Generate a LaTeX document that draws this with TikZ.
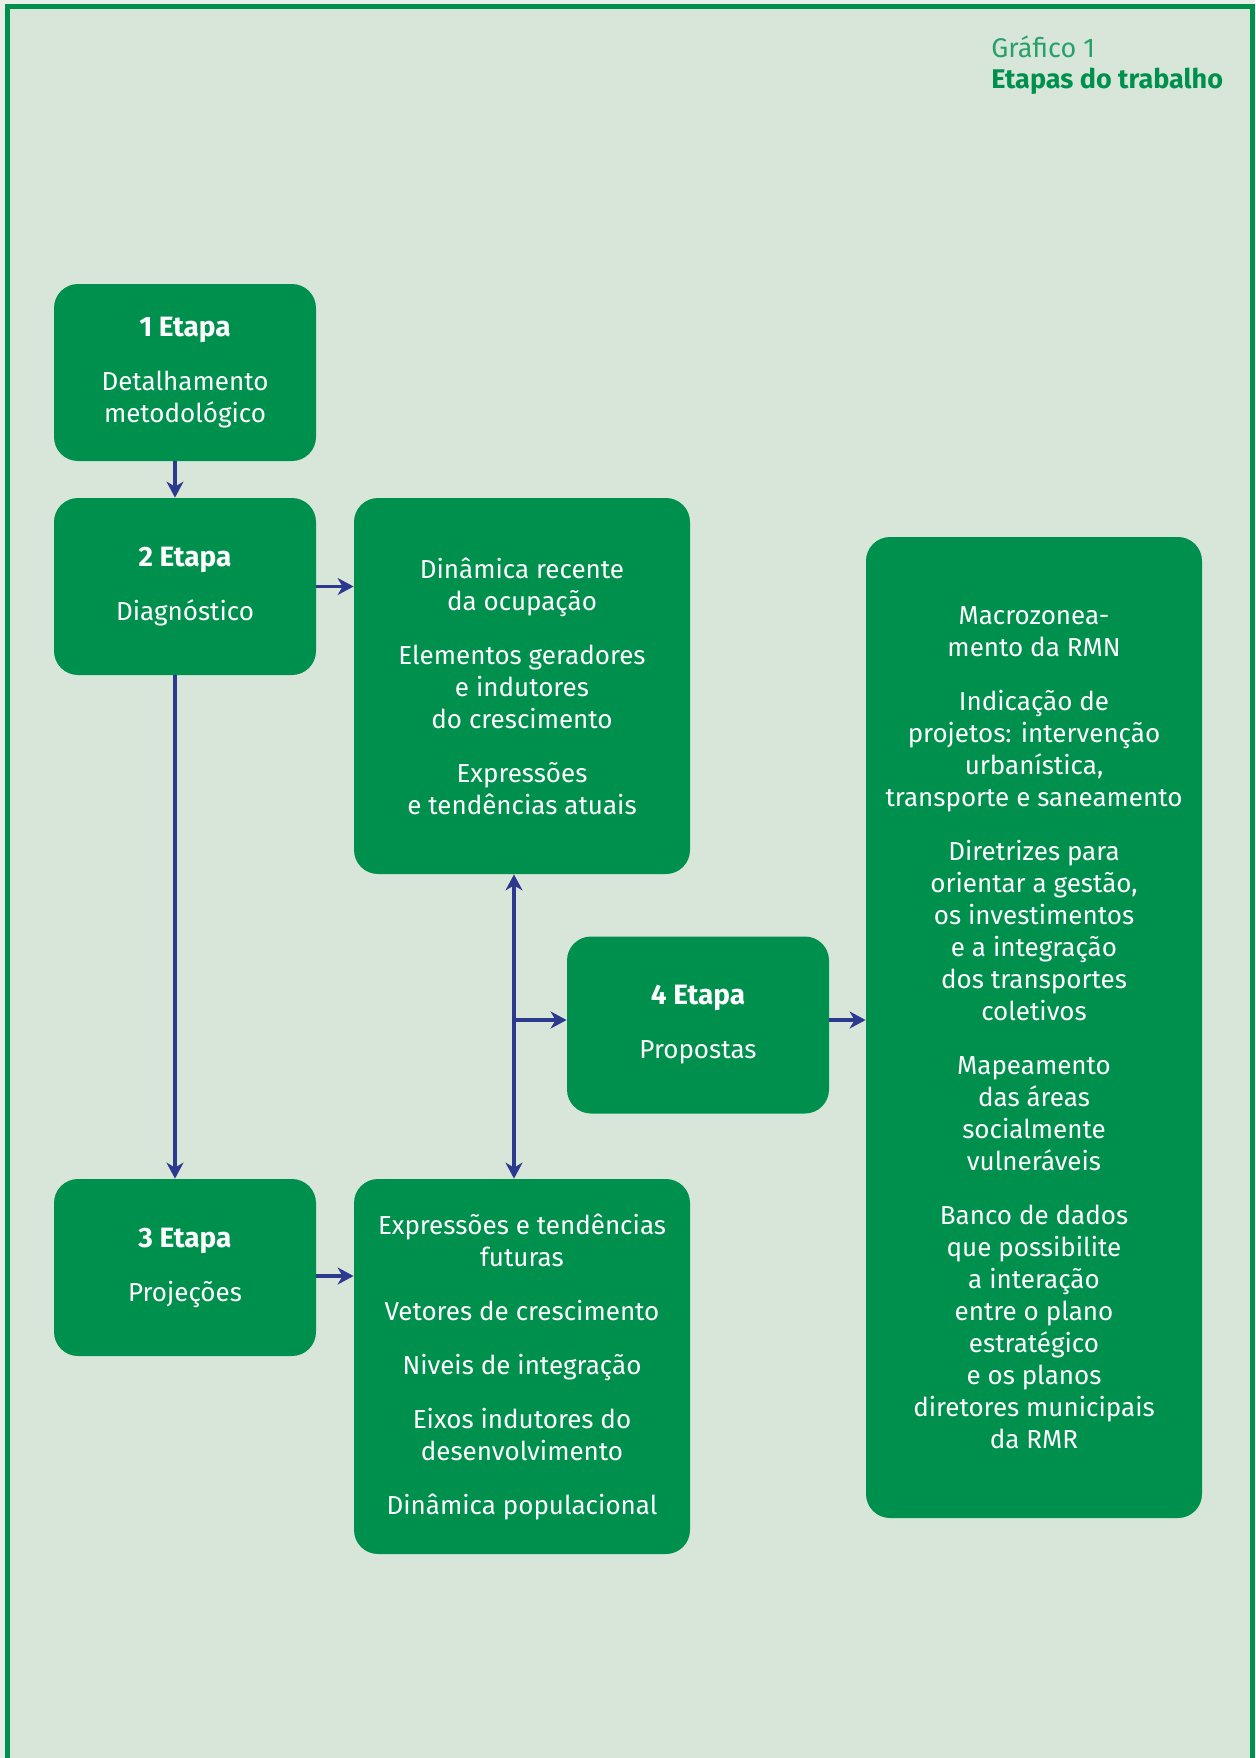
\documentclass[tikz,border=0pt]{standalone}
\usepackage{fontspec}
\setmainfont{Fira Sans}
\usetikzlibrary{arrows.meta,calc}
\definecolor{pagebg}{HTML}{E6EEE7}
\definecolor{panelbg}{HTML}{D8E6DA}
\definecolor{boxgreen}{HTML}{00904E}
\definecolor{arrowblue}{HTML}{2B3A8F}
\newcommand{\stagehead}[1]{{\fontsize{14pt}{16pt}\selectfont\bfseries #1}}
\begin{document}
\begin{tikzpicture}[x=0.5pt,y=-0.5pt,
  stepbox/.style={fill=boxgreen, rounded corners=12pt, text=white, align=center,
    inner sep=0pt, font=\fontsize{13pt}{16pt}\selectfont},
  small/.style={stepbox, minimum width=131pt, minimum height=88.5pt},
  tall/.style={stepbox, minimum width=168pt},
  tip/.tip={Stealth[length=8pt,width=8.5pt,inset=2.5pt]},
  arr/.style={draw=arrowblue, line width=1.7pt, -tip},
  dblarr/.style={draw=arrowblue, line width=1.7pt, tip-tip}]
% page and framed panel
\useasboundingbox (0,0) rectangle (1255,1758);
\fill[pagebg] (0,0) rectangle (1255,1758);
\fill[panelbg] (7.5,6.5) rectangle (1252.5,1758);
\draw[boxgreen, line width=2.5pt] (7.5,1758) -- (7.5,6.5) -- (1252.5,6.5) -- (1252.5,1758);

% heading
\node[anchor=base west, inner sep=0pt, text=boxgreen!85!white,
  font=\fontsize{13.5pt}{16pt}\selectfont] (t1) at (991,57) {Gráfico 1};
\node[anchor=base west, inner sep=0pt, text=boxgreen,
  font=\fontsize{13.5pt}{16pt}\selectfont\bfseries] (t2) at (991,88) {Etapas do trabalho};

% stages
\node[small] (b1) at (185,372.5) {\stagehead{1 Etapa}\\[11pt]Detalhamento\\metodológico};
\node[small] (b2) at (185,586.5) {\stagehead{2 Etapa}\\[11pt]Diagnóstico};
\node[small] (b3) at (185,1267.5) {\stagehead{3 Etapa}\\[11pt]Projeções};
\node[small] (b4) at (698,1025) {\stagehead{4 Etapa}\\[11pt]Propostas};

% contents
\node[tall, minimum height=188pt] (bD) at (522,686)
  {Dinâmica recente\\da ocupação\\[11pt]
   Elementos geradores\\e indutores\\do crescimento\\[11pt]
   Expressões\\e tendências atuais};
\node[tall, minimum height=187.5pt] (bP) at (522,1366.5)
  {Expressões e tendências\\futuras\\[11pt]
   Vetores de crescimento\\[11pt]
   Niveis de integração\\[11pt]
   Eixos indutores do\\desenvolvimento\\[11pt]
   Dinâmica populacional};
\node[tall, minimum height=490.5pt] (bR) at (1034,1027.5)
  {Macrozonea-\\mento da RMN\\[11pt]
   Indicação de\\projetos: intervenção\\urbanística,\\transporte e saneamento\\[11pt]
   Diretrizes para\\orientar a gestão,\\os investimentos\\e a integração\\dos transportes\\coletivos\\[11pt]
   Mapeamento\\das áreas\\socialmente\\vulneráveis\\[11pt]
   Banco de dados\\que possibilite\\a interação\\entre o plano\\estratégico\\e os planos\\diretores municipais\\da RMR};

% connector guides
\coordinate (ax) at (175,0);
\coordinate (vx) at (514,0);
\coordinate (jn) at (514,1020);
\coordinate (p3) at (0,1276);

% connectors
\draw[arr] (ax |- b1.south) -- (ax |- b2.north);
\draw[arr] (ax |- b2.south) -- (ax |- b3.north);
\draw[arr] (b2.east) -- (b2.east -| bD.west);
\draw[arr] (p3 -| b3.east) -- (p3 -| bP.west);
\draw[dblarr] (vx |- bD.south) -- (vx |- bP.north);
\draw[arr] (jn) -- (jn -| b4.west);
\draw[arr] (jn -| b4.east) -- (jn -| bR.west);
\end{tikzpicture}
\end{document}
